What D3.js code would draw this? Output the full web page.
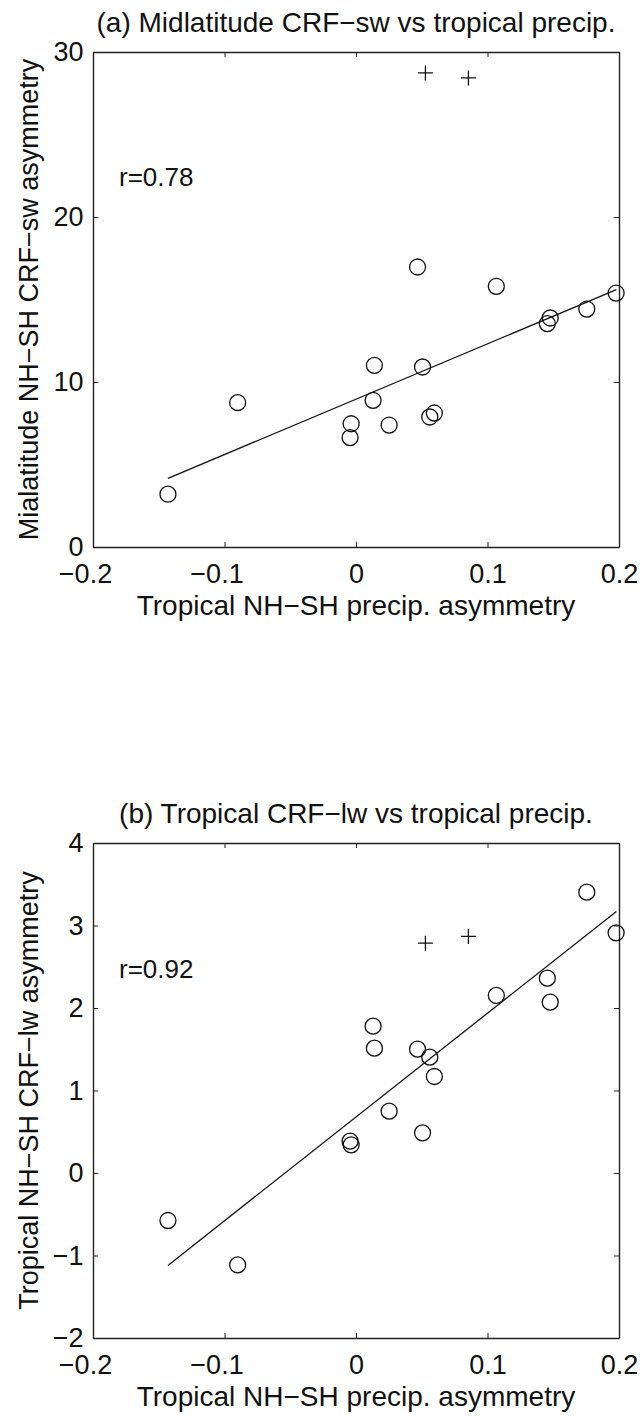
<!DOCTYPE html>
<html><head><meta charset="utf-8">
<script src="https://cdn.jsdelivr.net/npm/d3@7"></script>
<style>
html,body{margin:0;padding:0;background:#fff;}
svg text{font-family:"Liberation Sans",Arial,Helvetica,sans-serif;fill:#111;}
</style></head>
<body>
<svg id="chart" width="640" height="1416"></svg>
<script>
// Shared x values (tropical NH-SH precip asymmetry), circles
const precipX   = [-0.143, -0.090, -0.0045, -0.0037, 0.013, 0.014, 0.0252, 0.0468, 0.0506, 0.0561, 0.0596, 0.1067, 0.1455, 0.1477, 0.1755, 0.1978];
// Panel (a): midlatitude CRF-sw asymmetry
const crfSwY    = [3.2, 8.75, 6.63, 7.47, 8.89, 11.01, 7.39, 16.97, 10.91, 7.88, 8.12, 15.8, 13.54, 13.88, 14.42, 15.39];
// Panel (b): tropical CRF-lw asymmetry
const crfLwY    = [-0.576, -1.114, 0.386, 0.341, 1.78, 1.513, 0.75, 1.501, 0.487, 1.404, 1.17, 2.152, 2.362, 2.071, 3.404, 2.911];
// "+" markers (excluded from fit)
const plusX     = [0.0528, 0.0855];
const plusSwY   = [28.73, 28.43];
const plusLwY   = [2.786, 2.867];
// Regression line endpoints
const fitSwX = [-0.143, 0.198], fitSwY = [4.16, 15.6];
const fitLwX = [-0.143, 0.198], fitLwY = [-1.12, 3.17];
// Ticks
const xTicks  = [-0.2, -0.1, 0, 0.1, 0.2];
const yTicksA = [0, 10, 20, 30];
const yTicksB = [-2, -1, 0, 1, 2, 3, 4];
const titles  = ["(a) Midlatitude CRF\u2212sw vs tropical precip.", "(b) Tropical CRF\u2212lw vs tropical precip."];
const yLabels = ["Mialatitude NH\u2212SH CRF\u2212sw asymmetry", "Tropical NH\u2212SH CRF\u2212lw asymmetry"];
const xLabel  = "Tropical NH\u2212SH precip. asymmetry";
const rLabels = ["r=0.78", "r=0.92"];

const svg = d3.select("#chart");
const L = 93, R = 619;
const fmt = d => (d < 0 ? "\u2212" : "") + String(Math.abs(d));
const TICK_FS = 27;

function panel(cfg) {
  const x = d3.scaleLinear().domain([-0.2, 0.2]).range([L, R]);
  const y = d3.scaleLinear().domain(cfg.yDomain).range([cfg.bottom, cfg.top]);
  const g = svg.append("g");

  const styleAxis = sel => {
    sel.selectAll("path.domain").attr("stroke", "#222").attr("stroke-width", 1.4);
    sel.selectAll(".tick line").attr("stroke", "#222").attr("stroke-width", 1);
    sel.selectAll("text").attr("font-size", TICK_FS).attr("fill", "#111")
       .attr("font-family", "'Liberation Sans',Arial,sans-serif");
  };
  g.append("g").attr("transform", `translate(0,${cfg.bottom})`)
    .call(d3.axisBottom(x).tickValues(xTicks).tickFormat(fmt).tickSizeInner(-5).tickSizeOuter(0).tickPadding(16.5))
    .call(styleAxis)
    .call(s => s.selectAll(".tick text").attr("dx", d => d < 0 ? -8 : 0));
  g.append("g").attr("transform", `translate(0,${cfg.top})`)
    .call(d3.axisTop(x).tickValues(xTicks).tickFormat("").tickSizeInner(-5).tickSizeOuter(0))
    .call(styleAxis);
  g.append("g").attr("transform", `translate(${L},0)`)
    .call(d3.axisLeft(y).tickValues(cfg.yTicks).tickFormat(fmt).tickSizeInner(-5).tickSizeOuter(0).tickPadding(9.5))
    .call(styleAxis);
  g.append("g").attr("transform", `translate(${R},0)`)
    .call(d3.axisRight(y).tickValues(cfg.yTicks).tickFormat("").tickSizeInner(-5).tickSizeOuter(0))
    .call(styleAxis);

  // regression line
  g.append("line")
    .attr("x1", x(cfg.fitX[0])).attr("y1", y(cfg.fitY[0]))
    .attr("x2", x(cfg.fitX[1])).attr("y2", y(cfg.fitY[1]))
    .attr("stroke", "#111").attr("stroke-width", 1.3);

  // circles
  g.selectAll("circle.pt").data(precipX.map((v, i) => [v, cfg.ys[i]])).join("circle")
    .attr("class", "pt").attr("cx", d => x(d[0])).attr("cy", d => y(d[1])).attr("r", 8)
    .attr("fill", "none").attr("stroke", "#111").attr("stroke-width", 1.3);

  // plus markers
  const pd = plusX.map((v, i) => [v, cfg.plusY[i]]);
  g.selectAll("path.plus").data(pd).join("path")
    .attr("class", "plus")
    .attr("d", d => { const cx = x(d[0]), cy = y(d[1]), s = 7.5; return `M${cx - s},${cy}H${cx + s}M${cx},${cy - s}V${cy + s}`; })
    .attr("stroke", "#111").attr("stroke-width", 1.3).attr("fill", "none");

  // title
  g.append("text").attr("x", (L + R) / 2).attr("y", cfg.top - 20)
    .attr("text-anchor", "middle").attr("font-size", 28).text(cfg.title);
  // x label
  g.append("text").attr("x", (L + R) / 2).attr("y", cfg.bottom + 68)
    .attr("text-anchor", "middle").attr("font-size", 28).text(xLabel);
  // y label
  g.append("text").attr("transform", `translate(37.5,${(cfg.top + cfg.bottom) / 2}) rotate(-90)`)
    .attr("text-anchor", "middle").attr("font-size", 27).text(cfg.yLabel);
  // r label
  g.append("text").attr("x", 119).attr("y", cfg.rY).attr("font-size", 26).text(cfg.r);
}

panel({ top: 52, bottom: 547, yDomain: [0, 30], yTicks: yTicksA, ys: crfSwY, plusY: plusSwY,
        fitX: fitSwX, fitY: fitSwY, title: titles[0], yLabel: yLabels[0], r: rLabels[0], rY: 186 });
panel({ top: 843, bottom: 1338, yDomain: [-2, 4], yTicks: yTicksB, ys: crfLwY, plusY: plusLwY,
        fitX: fitLwX, fitY: fitLwY, title: titles[1], yLabel: yLabels[1], r: rLabels[1], rY: 978 });
</script>
</body></html>
